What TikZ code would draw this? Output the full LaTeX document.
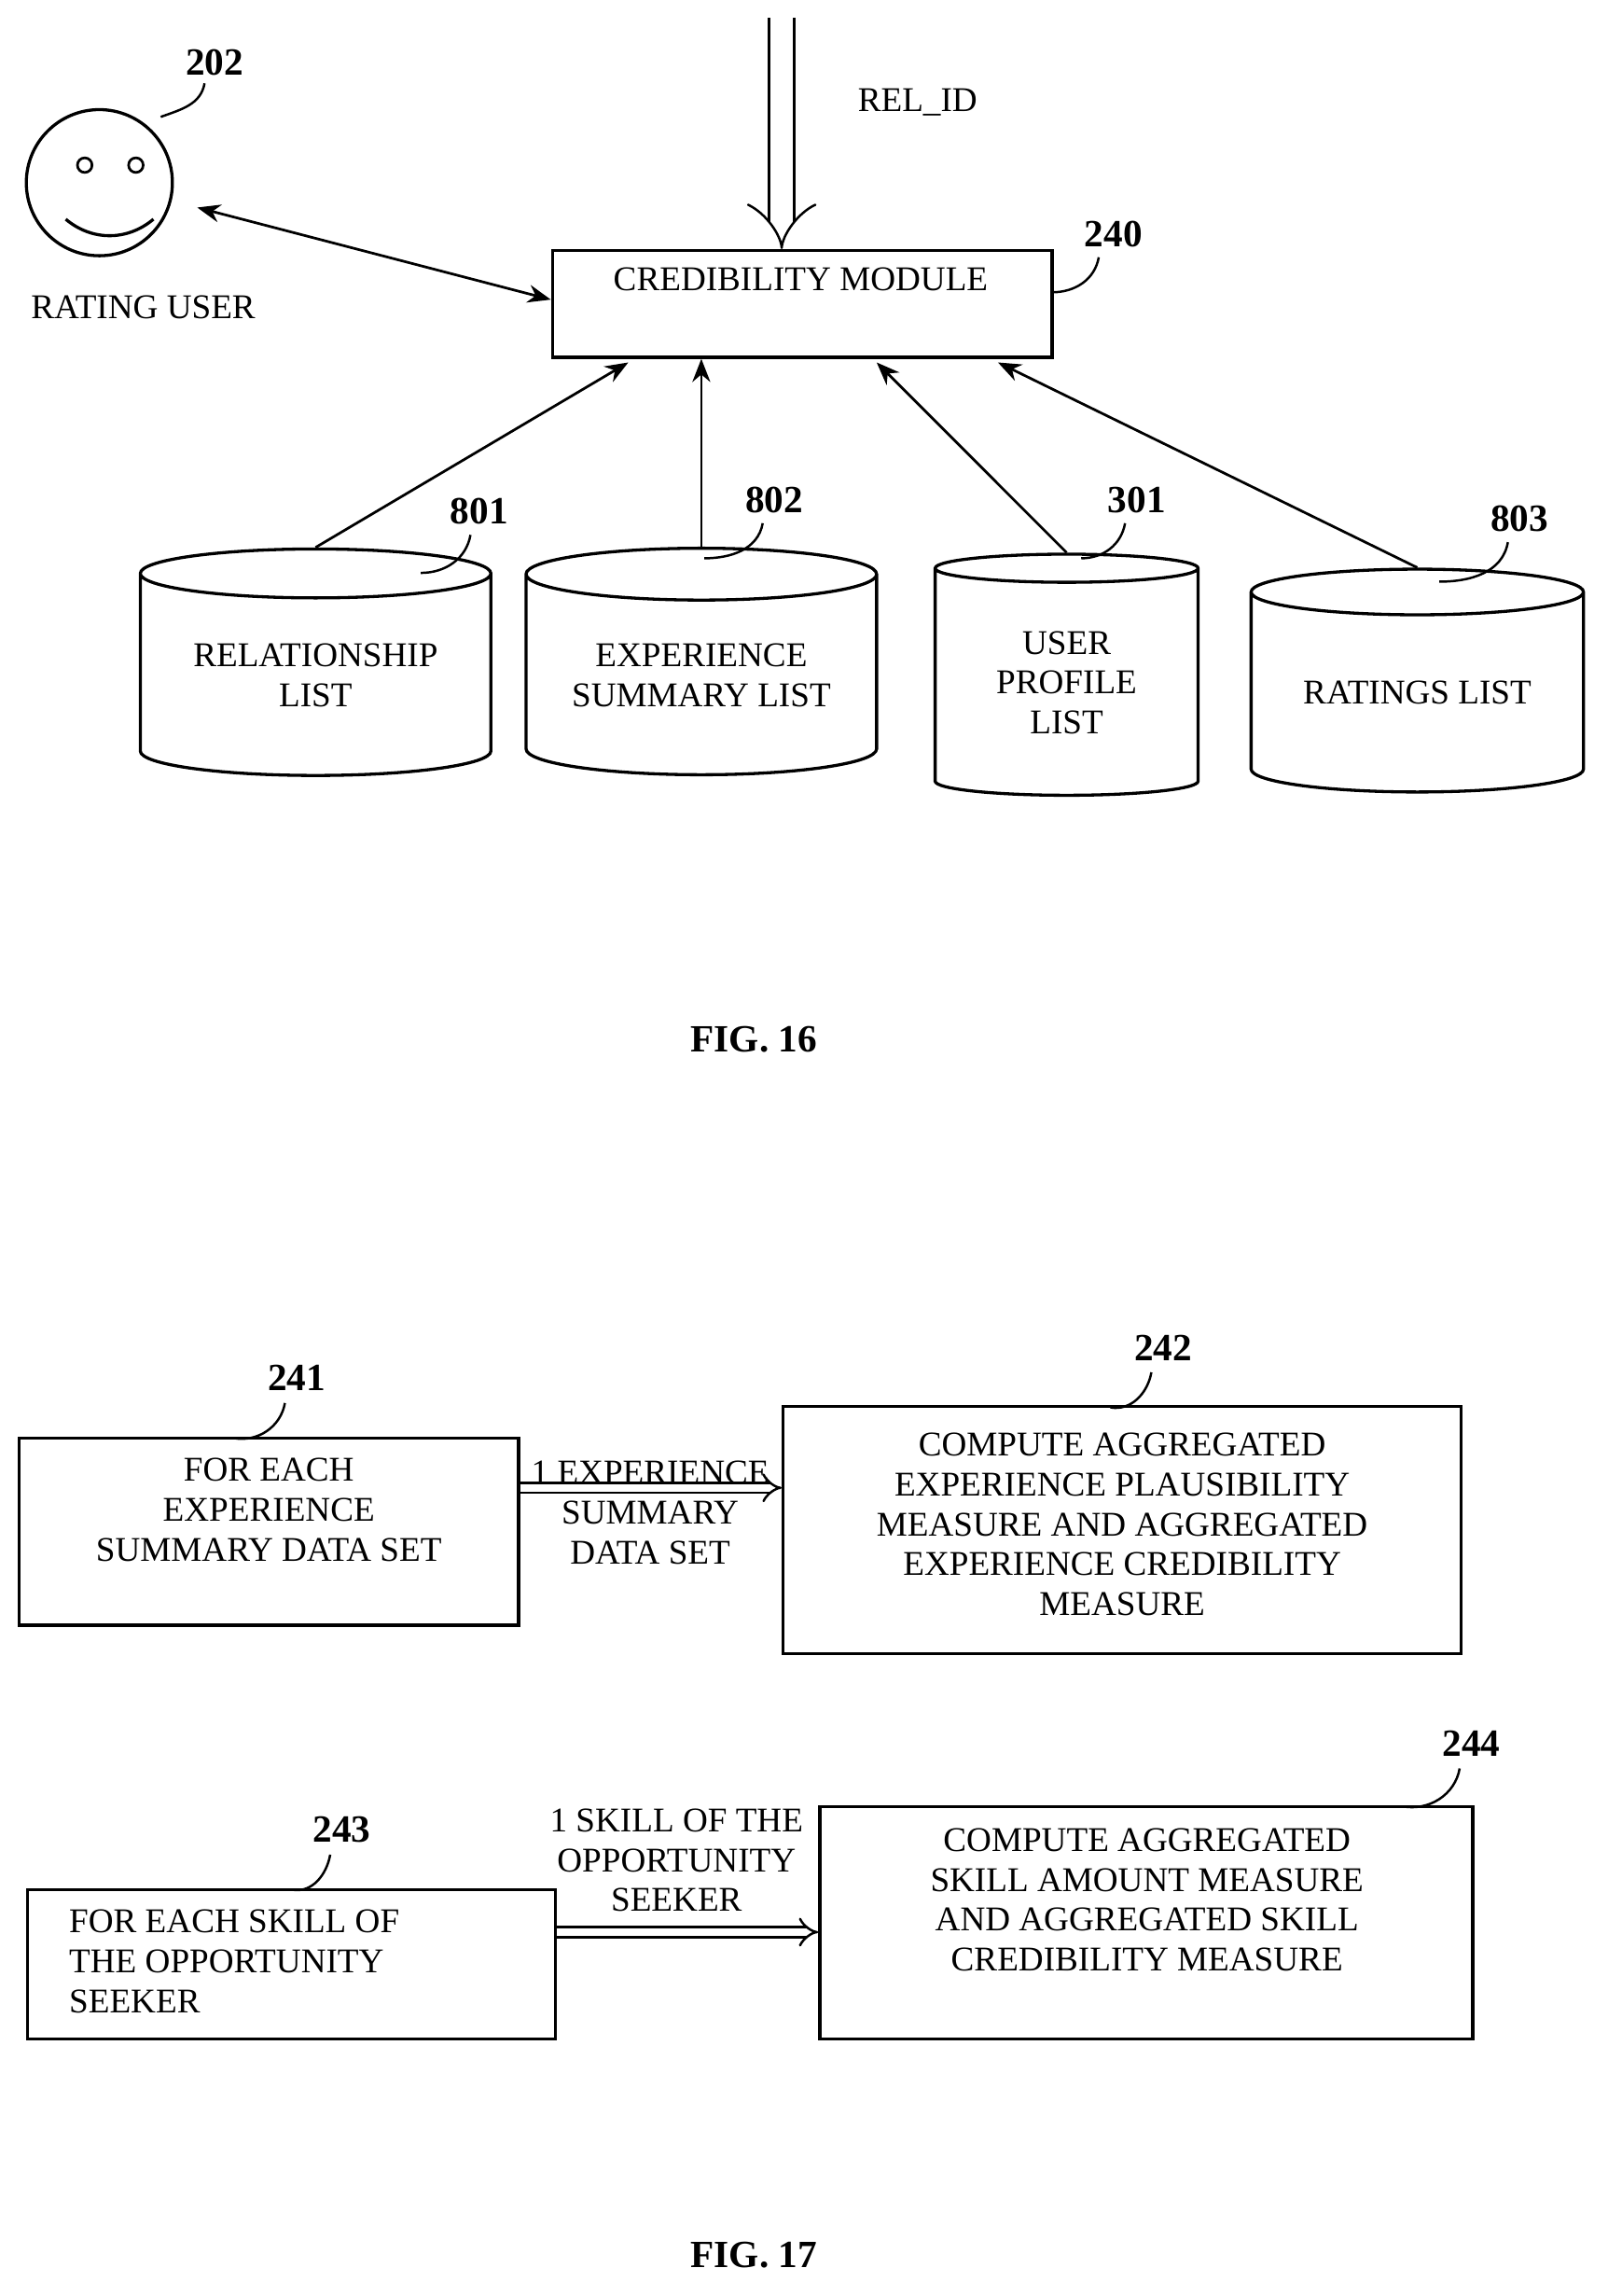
\documentclass[tikz,border=0pt]{standalone}
\usepackage{fontspec}
\setmainfont{Liberation Serif}
\usetikzlibrary{shapes.geometric,arrows.meta,positioning}

\tikzset{
  txt/.style={font=\fontsize{13.5}{15.5}\selectfont, align=center, inner sep=0pt},
  num/.style={font=\bfseries\fontsize{15}{17}\selectfont, inner sep=0pt},
  box/.style={draw, line width=1.2pt, inner sep=0pt},
  db/.style={draw, line width=1.2pt, cylinder, shape border rotate=90, aspect=0.2,
             minimum width=#1, inner sep=0pt, font=\fontsize{13.5}{15.5}\selectfont, align=center},
  arr/.style={line width=1pt, -{Stealth[length=9pt,width=7pt]}},
  dbl/.style={double, double distance=#1, line width=0.9pt, -{Implies}},
  lead/.style={line width=0.9pt}
}

\begin{document}
\begin{tikzpicture}[x=0.02cm, y=-0.02cm]
\useasboundingbox (0,0) rectangle (1100,1571);

% FIG. 16
\node[circle, draw, line width=1.2pt, minimum size=2cm] (face) at (68,125) {};
\draw[line width=1pt] (58,113) circle (5) (93,113) circle (5);
\draw[line width=1.2pt] (45,150) to[out=-40,in=-140] (105,150);
\node[num] (n202) at (147,43) {202};
\draw[lead] (110,80) to[out=20,in=-100] (140,57);
\node[txt] (rater) at (98,210) {RATING USER};

\node[box, minimum width=6.84cm, minimum height=1.46cm] (cred) at (549,208) {};
\node[txt] at (548,191) {CREDIBILITY MODULE};
\node[num] (n240) at (762,160) {240};
\draw[lead] (720,200) to[out=0,in=-100] (752,176);
\coordinate (relin) at (535,12);
\draw[dbl=9pt] (relin) -- (cred.north -| relin);
\node[txt] (relid) at (628,70) {REL\_ID};
\draw[line width=1pt, {Stealth[length=9pt,width=7pt]}-{Stealth[length=9pt,width=7pt]}] (135,142) -- (cred.west |- 0,205);

\node[db=4.8cm, minimum height=3.1cm] (d801) at (216,462) {RELATIONSHIP\\LIST};
\node[db=4.8cm, minimum height=3.1cm] (d802) at (480,462) {EXPERIENCE\\SUMMARY LIST};
\node[db=3.6cm, minimum height=3.3cm] (d301) at (730,467) {USER\\PROFILE\\LIST};
\node[db=4.55cm, minimum height=3.05cm] (d803) at (970,474) {RATINGS LIST};

\draw[arr] (d801.north) -- (430,248);
\draw[arr] (d802.north) -- (d802.north |- cred.south);
\draw[arr] (d301.north) -- (600,248);
\draw[arr] (d803.north) -- (683,248);

\node[num] (n801) at (328,350) {801};
\draw[lead] (288,392) to[out=0,in=-100] (322,366);
\node[num] (n802) at (530,342) {802};
\draw[lead] (482,382) to[out=0,in=-100] (522,358);
\node[num] (n301) at (778,342) {301};
\draw[lead] (740,382) to[out=0,in=-100] (770,358);
\node[num] (n803) at (1040,355) {803};
\draw[lead] (985,398) to[out=0,in=-100] (1032,371);

\node[num] (fig16) at (516,711) {FIG. 16};

% FIG. 17
\node[box, minimum width=6.84cm, minimum height=2.56cm] (b241) at (184,1048) {};
\node[txt] at (184,1033) {FOR EACH\\EXPERIENCE\\SUMMARY DATA SET};
\node[box, minimum width=9.28cm, minimum height=3.38cm] (b242) at (768,1047) {};
\node[txt] at (768,1043) {COMPUTE AGGREGATED\\EXPERIENCE PLAUSIBILITY\\MEASURE AND AGGREGATED\\EXPERIENCE CREDIBILITY\\MEASURE};
\draw[dbl=3pt] (b241.east |- 0,1018) -- (b242.west |- 0,1018);
\node[txt] (t1) at (445,1035) {1 EXPERIENCE\\SUMMARY\\DATA SET};
\node[num] (n241) at (203,943) {241};
\draw[lead] (160,984) to[out=-10,in=-100] (195,960);
\node[num] (n242) at (796,922) {242};
\draw[lead] (760,963) to[out=-10,in=-100] (788,939);

\node[box, minimum width=7.22cm, minimum height=2.04cm] (b243) at (199.5,1344) {};
\node[txt, align=left, anchor=west] at (47,1342) {FOR EACH SKILL OF\\THE OPPORTUNITY\\SEEKER};
\node[box, minimum width=8.94cm, minimum height=3.18cm] (b244) at (784.5,1315.5) {};
\node[txt] at (785,1300) {COMPUTE AGGREGATED\\SKILL AMOUNT MEASURE\\AND AGGREGATED SKILL\\CREDIBILITY MEASURE};
\draw[dbl=3pt] (b243.east |- 0,1322) -- (b244.west |- 0,1322);
\node[txt] (t2) at (463,1273) {1 SKILL OF THE\\OPPORTUNITY\\SEEKER};
\node[num] (n243) at (234,1252) {243};
\draw[lead] (200,1293) to[out=-10,in=-100] (226,1269);
\node[num] (n244) at (1007,1193) {244};
\draw[lead] (960,1236) to[out=-10,in=-100] (999,1210);

\node[num] (fig17) at (516,1543) {FIG. 17};
\end{tikzpicture}
\end{document}
